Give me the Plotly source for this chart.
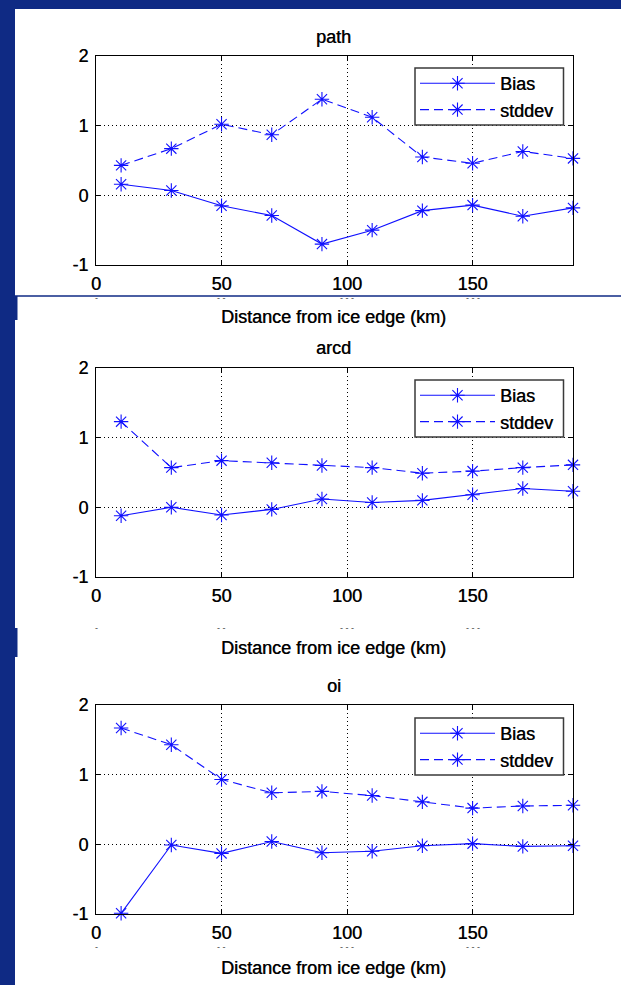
import plotly.graph_objects as go

# ---------------- data ----------------
x_km = [10, 30, 50, 70, 90, 110, 130, 150, 170, 190]

path_bias = [0.16, 0.07, -0.15, -0.29, -0.70, -0.50, -0.22, -0.14, -0.30, -0.18]
path_std = [0.43, 0.67, 1.02, 0.87, 1.38, 1.12, 0.55, 0.46, 0.63, 0.53]

arcd_bias = [-0.12, 0.00, -0.11, -0.03, 0.12, 0.07, 0.10, 0.18, 0.27, 0.23]
arcd_std = [1.23, 0.57, 0.67, 0.64, 0.60, 0.57, 0.49, 0.52, 0.57, 0.61]

oi_bias = [-0.99, -0.01, -0.13, 0.04, -0.12, -0.10, -0.02, 0.01, -0.03, -0.02]
oi_std = [1.67, 1.43, 0.93, 0.74, 0.76, 0.70, 0.61, 0.52, 0.55, 0.56]

panel_titles = ["path", "arcd", "oi"]
x_title = "Distance from ice edge (km)"
x_ticks = [0, 50, 100, 150]
x_ticktext = ["0", "50", "100", "150"]
y_ticks = [-1, 0, 1, 2]
y_ticktext = ["-1", "0", "1", "2"]
series_names = ["Bias", "stddev"]

# ---------------- geometry ----------------
W, H = 621, 985
BLUE = "rgb(15,42,132)"
LINE_BLUE = "#1010ff"
FONT = "Liberation Sans, Arial, sans-serif"
SHADOW = "0.4px 0px 0px rgba(0,0,0,0.8)"


def fx(px):
    return px / W


def fy(px):
    return 1 - px / H


def tfont(size=18, color="black"):
    return dict(family=FONT, size=size, color=color, shadow=SHADOW)


plot_left, plot_right = 96, 573
panels = [  # (top, bottom, title_y, xtitle_y, legend_top, frag_y)
    (56, 265, 37, 317, 68, 298),
    (368, 577, 348, 648, 380, 628),
    (705, 914, 686, 968, 718, 947),
]
data_sets = [(path_bias, path_std), (arcd_bias, arcd_std), (oi_bias, oi_std)]

fig = go.Figure()
shapes = [
    # white page
    dict(type="rect", xref="paper", yref="paper", x0=fx(15), x1=1.0,
         y0=0, y1=fy(9), fillcolor="white", line_width=0, layer="below"),
    # blue separator line & small blocks from the collage
    dict(type="line", xref="paper", yref="paper", x0=fx(15), x1=1.0,
         y0=fy(296), y1=fy(296), line=dict(color=BLUE, width=1.5)),
    dict(type="rect", xref="paper", yref="paper", x0=0, x1=fx(17.5),
         y0=fy(320), y1=fy(296), fillcolor=BLUE, line_width=0),
    dict(type="rect", xref="paper", yref="paper", x0=0, x1=fx(17.5),
         y0=fy(657), y1=fy(628), fillcolor=BLUE, line_width=0),
]

for i, ((bias, std), geo) in enumerate(zip(data_sets, panels)):
    top, bottom, ty, xty, lt, frag = geo
    sfx = "" if i == 0 else str(i + 1)
    leg = "legend" if i == 0 else f"legend{i + 1}"
    fig.add_trace(go.Scatter(
        x=x_km, y=bias, name=series_names[0], mode="lines+markers",
        xaxis="x" + sfx, yaxis="y" + sfx, legend=leg, cliponaxis=False,
        line=dict(color=LINE_BLUE, width=1.1),
        marker=dict(symbol="asterisk-open", size=12, color=LINE_BLUE,
                    line=dict(color=LINE_BLUE, width=1.1)),
    ))
    fig.add_trace(go.Scatter(
        x=x_km, y=std, name=series_names[1], mode="lines+markers",
        xaxis="x" + sfx, yaxis="y" + sfx, legend=leg, cliponaxis=False,
        line=dict(color=LINE_BLUE, width=1.1, dash="9px,5px"),
        marker=dict(symbol="asterisk-open", size=12, color=LINE_BLUE,
                    line=dict(color=LINE_BLUE, width=1.1)),
    ))

    axis_common = dict(
        showline=True, linecolor="black", linewidth=1, mirror="allticks",
        ticks="inside", ticklen=5, tickcolor="black", tickwidth=1,
        showgrid=True, gridcolor="black", gridwidth=1, griddash="1px,3px",
        zeroline=False, automargin=False, tickfont=tfont(),
    )
    fig.layout["xaxis" + sfx] = dict(
        axis_common, domain=[fx(plot_left), fx(plot_right)], range=[0, 190],
        tickvals=x_ticks, ticktext=x_ticktext, anchor="y" + sfx,
        ticklabelstandoff=2,
    )
    fig.layout["yaxis" + sfx] = dict(
        axis_common, domain=[fy(bottom), fy(top)], range=[-1, 2],
        tickvals=y_ticks, ticktext=y_ticktext, anchor="x" + sfx,
        ticklabelstandoff=3,
    )
    # legend box (drawn as a shape so its size matches exactly)
    shapes.append(dict(type="rect", xref="paper", yref="paper",
                       x0=fx(415), x1=fx(563.5), y0=fy(lt + 57), y1=fy(lt),
                       fillcolor="white", line=dict(color="#3a3a3a", width=1.5),
                       layer="above"))
    fig.layout[leg] = dict(
        x=fx(415), y=fy(lt - 3), xanchor="left", yanchor="top",
        bgcolor="rgba(0,0,0,0)", borderwidth=0,
        font=tfont(), itemwidth=75, tracegroupgap=0,
    )
    fig.add_annotation(x=fx(334), y=fy(ty), xref="paper", yref="paper",
                       text=panel_titles[i], showarrow=False, font=tfont(),
                       xanchor="center", yanchor="middle")
    fig.add_annotation(x=fx(334), y=fy(xty), xref="paper", yref="paper",
                       text=x_title, showarrow=False, font=tfont(),
                       xanchor="center", yanchor="middle")
    # cut-off tick-label fragments left in the collage
    for xv, frag_txt in zip(x_ticks, ["-", "- -", "- - -", "- - -"]):
        fig.add_annotation(x=xv, y=fy(frag), xref="x" + sfx, yref="paper",
                           text=frag_txt, showarrow=False,
                           font=dict(family=FONT, size=9, color="#444"),
                           xanchor="center", yanchor="middle")

fig.update_layout(
    template="none",
    width=W, height=H, autosize=False,
    margin=dict(l=0, r=0, t=0, b=0, pad=0),
    paper_bgcolor=BLUE, plot_bgcolor="white",
    shapes=shapes, showlegend=True,
    font=dict(family=FONT, size=18, color="black"),
)

fig.write_html("out.html")
